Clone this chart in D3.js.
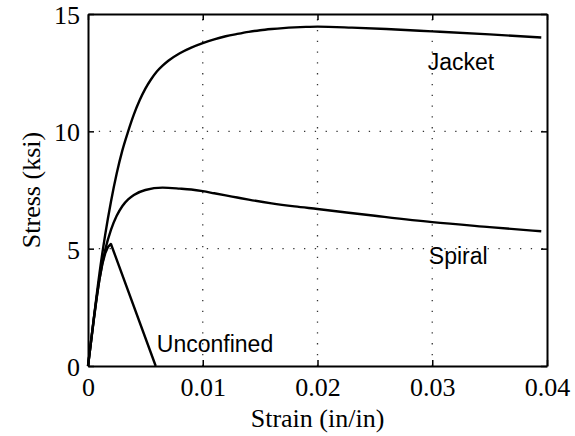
<!DOCTYPE html>
<html>
<head>
<meta charset="utf-8">
<script src="https://cdn.jsdelivr.net/npm/d3@7"></script>
<style>
  html, body { margin: 0; padding: 0; background: #fff; }
  svg { display: block; }
</style>
</head>
<body>
<svg id="chart" width="575" height="436"></svg>
<script>
// ---- data (strain in/in, stress ksi) ----
const jacketStrain = [0, 0.0005, 0.001, 0.0015, 0.002, 0.0025, 0.003, 0.0035, 0.004, 0.0045, 0.005, 0.0055, 0.006, 0.0065, 0.007, 0.008, 0.009, 0.010, 0.011, 0.012, 0.013, 0.014, 0.015, 0.016, 0.017, 0.018, 0.019, 0.020, 0.023, 0.026, 0.030, 0.035, 0.0395];
const jacketStress = [0, 2.0, 3.95, 5.6, 7.0, 8.2, 9.2, 10.0, 10.72, 11.32, 11.82, 12.22, 12.55, 12.8, 13.01, 13.33, 13.57, 13.76, 13.92, 14.05, 14.15, 14.24, 14.31, 14.36, 14.40, 14.43, 14.45, 14.46, 14.42, 14.36, 14.26, 14.13, 14.0];

const spiralStrain = [0, 0.0005, 0.001, 0.0015, 0.002, 0.0025, 0.003, 0.0035, 0.004, 0.005, 0.0065, 0.008, 0.009, 0.010, 0.011, 0.012, 0.013, 0.014, 0.016, 0.018, 0.020, 0.025, 0.030, 0.035, 0.0395];
const spiralStress = [0, 1.95, 3.7, 4.95, 5.8, 6.4, 6.82, 7.1, 7.29, 7.5, 7.6, 7.56, 7.52, 7.45, 7.36, 7.27, 7.18, 7.09, 6.93, 6.8, 6.69, 6.40, 6.13, 5.92, 5.74];

const unconfStrain = [0, 0.00025, 0.0005, 0.00075, 0.001, 0.00125, 0.0015, 0.00175, 0.002, 0.0059];
const unconfStress = [0, 1.0, 2.0, 2.9, 3.7, 4.35, 4.8, 5.08, 5.2, 0];

const xTicks = [0, 0.01, 0.02, 0.03, 0.04];
const xTickLabels = ["0", "0.01", "0.02", "0.03", "0.04"];
const yTicks = [0, 5, 10, 15];
const yTickLabels = ["0", "5", "10", "15"];

const labels = ["Jacket", "Spiral", "Unconfined"];
const labelAnchor = [[0.0296, 12.61], [0.0297, 4.35], [0.0060, 0.61]];

const xTitle = "Strain (in/in)";
const yTitle = "Stress (ksi)";

// ---- drawing ----
const svg = d3.select("#chart");
const L = 88, R = 547, T = 14, B = 366;
const x = d3.scaleLinear().domain([0, 0.04]).range([L, R]);
const y = d3.scaleLinear().domain([0, 15]).range([B, T]);

const serif = "'Liberation Serif', 'Times New Roman', serif";
const sans = "'Liberation Sans', Arial, sans-serif";

// grid
const grid = svg.append("g");
xTicks.slice(1, -1).forEach(v => {
  grid.append("line")
    .attr("x1", x(v)).attr("x2", x(v)).attr("y1", B).attr("y2", T)
    .attr("stroke", "#333").attr("stroke-width", 1.3)
    .attr("stroke-dasharray", "1.3,9.5");
});
yTicks.slice(1, -1).forEach(v => {
  grid.append("line")
    .attr("x1", L).attr("x2", R).attr("y1", y(v)).attr("y2", y(v))
    .attr("stroke", "#333").attr("stroke-width", 1.3)
    .attr("stroke-dasharray", "1.3,9.5");
});

// axes with inward ticks
const fmtX = (d, i) => xTickLabels[i];
const fmtY = (d, i) => yTickLabels[i];
const axB = svg.append("g").attr("transform", `translate(0,${B})`)
  .call(d3.axisBottom(x).tickValues(xTicks).tickFormat(fmtX).tickSizeInner(-6).tickSizeOuter(0).tickPadding(12));
const axT = svg.append("g").attr("transform", `translate(0,${T})`)
  .call(d3.axisTop(x).tickValues(xTicks).tickFormat("").tickSizeInner(-6).tickSizeOuter(0));
const axL = svg.append("g").attr("transform", `translate(${L},0)`)
  .call(d3.axisLeft(y).tickValues(yTicks).tickFormat(fmtY).tickSizeInner(-6).tickSizeOuter(0).tickPadding(8));
const axR = svg.append("g").attr("transform", `translate(${R},0)`)
  .call(d3.axisRight(y).tickValues(yTicks).tickFormat("").tickSizeInner(-6).tickSizeOuter(0));

[axB, axT, axL, axR].forEach(a => {
  a.select(".domain").attr("stroke", "#000").attr("stroke-width", 2);
  a.selectAll(".tick line").attr("stroke", "#000").attr("stroke-width", 1.5);
  a.selectAll("text").attr("font-family", serif).attr("font-size", 26).attr("fill", "#000");
});
axB.selectAll("text").attr("dy", "0.71em");
axL.selectAll("text").attr("dy", "0.36em");

// curves
const smooth = d3.line().x(d => x(d[0])).y(d => y(d[1])).curve(d3.curveMonotoneX);
const straight = d3.line().x(d => x(d[0])).y(d => y(d[1]));
const zip = (a, b) => a.map((v, i) => [v, b[i]]);

svg.append("path").datum(zip(jacketStrain, jacketStress))
  .attr("d", smooth).attr("fill", "none").attr("stroke", "#000").attr("stroke-width", 2.4);
svg.append("path").datum(zip(spiralStrain, spiralStress))
  .attr("d", smooth).attr("fill", "none").attr("stroke", "#000").attr("stroke-width", 2.4);
svg.append("path").datum(zip(unconfStrain, unconfStress))
  .attr("d", straight).attr("fill", "none").attr("stroke", "#000").attr("stroke-width", 2.4)
  .attr("stroke-linejoin", "round");

// annotations
labels.forEach((t, i) => {
  svg.append("text")
    .attr("x", x(labelAnchor[i][0])).attr("y", y(labelAnchor[i][1]))
    .attr("font-family", sans).attr("font-size", 23).attr("fill", "#000")
    .text(t);
});

// titles
svg.append("text")
  .attr("x", (L + R) / 2).attr("y", 427)
  .attr("text-anchor", "middle")
  .attr("font-family", serif).attr("font-size", 26).attr("fill", "#000")
  .text(xTitle);
svg.append("text")
  .attr("transform", `translate(40,${(T + B) / 2}) rotate(-90)`)
  .attr("text-anchor", "middle")
  .attr("font-family", serif).attr("font-size", 26).attr("fill", "#000")
  .text(yTitle);
</script>
</body>
</html>
